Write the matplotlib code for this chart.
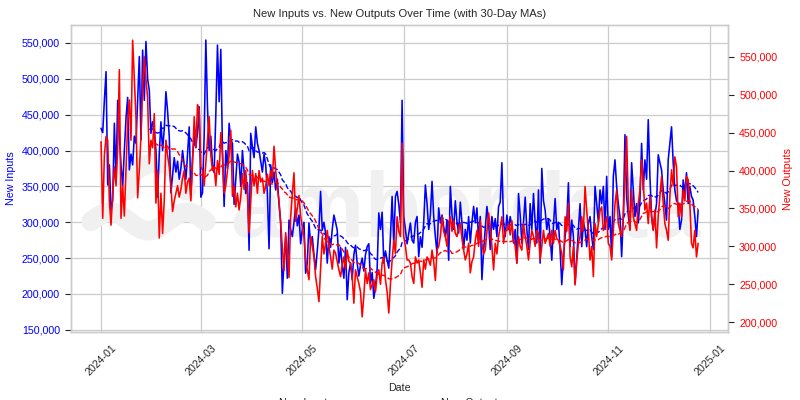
import numpy as np
import pandas as pd
import matplotlib
matplotlib.use("Agg")
import matplotlib.pyplot as plt
import matplotlib.ticker as mticker
import seaborn as sns

# daily values, thousands, 2024-01-01 .. 2024-12-25
new_inputs = [
    # Jan
    431, 425, 470, 510, 352, 380, 317, 330, 438, 360, 470, 420, 380, 350, 400, 445,
    474, 373, 395, 380, 420, 410, 470, 531, 415, 540, 470, 552, 500, 484, 424,
    # Feb
    440, 430, 400, 335, 395, 440, 400, 430, 482, 455, 420, 341, 365, 390, 370, 385,
    360, 375, 400, 380, 360, 395, 433, 338, 390, 420, 405, 425, 461,
    # Mar
    335, 341, 420, 554, 460, 400, 420, 380, 369, 450, 547, 468, 541, 400, 322, 400,
    375, 438, 415, 410, 325, 360, 395, 384, 350, 400, 370, 340, 355, 261, 424,
    # Apr
    405, 390, 433, 410, 400, 385, 370, 395, 380, 340, 263, 380, 355, 370, 345, 360,
    325, 300, 201, 247, 280, 222, 303, 290, 280, 300, 320, 295, 310, 270,
    # May
    290, 300, 229, 243, 299, 270, 280, 255, 234, 260, 290, 343, 289, 300, 285, 243,
    280, 265, 290, 310, 300, 289, 243, 265, 240, 222, 265, 192, 230, 243, 220,
    # Jun
    255, 268, 243, 225, 240, 250, 232, 255, 266, 270, 215, 230, 194, 210, 235, 313,
    290, 314, 243, 260, 247, 236, 280, 336, 270, 336, 343, 325, 300, 470,
    # Jul
    308, 290, 270, 285, 299, 275, 271, 300, 308, 252, 280, 265, 300, 352, 326, 290,
    310, 357, 308, 280, 257, 320, 299, 310, 294, 280, 303, 247, 350, 310, 290,
    # Aug
    330, 300, 285, 328, 299, 262, 290, 275, 308, 271, 300, 322, 299, 320, 275, 308,
    220, 260, 290, 322, 300, 262, 308, 290, 305, 280, 322, 328, 383, 300, 280,
    # Sep
    310, 290, 308, 295, 271, 290, 243, 340, 310, 271, 300, 335, 290, 262, 326, 290,
    340, 300, 271, 345, 243, 375, 330, 317, 290, 305, 280, 247, 295, 333,
    # Oct
    290, 300, 262, 213, 250, 280, 300, 355, 266, 303, 280, 215, 250, 290, 326, 266,
    300, 290, 266, 299, 308, 280, 262, 350, 326, 300, 345, 326, 350, 290, 364,
    # Nov
    290, 308, 252, 364, 387, 350, 326, 308, 252, 308, 422, 336, 310, 290, 383, 345,
    308, 326, 299, 330, 410, 345, 387, 360, 443, 364, 308, 290, 310, 326,
    # Dec
    394, 383, 373, 345, 326, 303, 387, 410, 433, 383, 345, 330, 326, 290, 303, 359,
    340, 369, 326, 350, 336, 331, 308, 280, 317,
]

new_outputs = [
    # Jan
    438, 337, 420, 445, 440, 360, 328, 370, 405, 380, 430, 533, 337, 380, 340, 400,
    463, 493, 440, 572, 520, 470, 364, 400, 445, 510, 550, 520, 496, 409, 440,
    # Feb
    430, 475, 357, 400, 311, 370, 317, 360, 440, 420, 405, 380, 346, 360, 370, 380,
    365, 375, 390, 400, 370, 385, 390, 360, 410, 471, 430, 487, 480,
    # Mar
    405, 401, 380, 410, 440, 471, 420, 400, 405, 380, 413, 395, 450, 420, 370, 380,
    400, 420, 453, 366, 380, 352, 370, 348, 365, 396, 375, 400, 370, 318, 360,
    # Apr
    400, 380, 396, 370, 400, 385, 390, 370, 380, 395, 380, 400, 390, 432, 400, 377,
    360, 330, 300, 268, 318, 290, 259, 339, 370, 397, 333, 350, 367, 340,
    # May
    325, 313, 283, 269, 256, 313, 300, 287, 260, 245, 227, 270, 313, 290, 304, 321,
    300, 286, 270, 295, 291, 280, 269, 260, 275, 286, 270, 295, 280, 278, 260,
    # Jun
    225, 269, 260, 251, 240, 207, 235, 269, 251, 265, 243, 250, 256, 240, 262, 269,
    250, 278, 286, 256, 240, 212, 250, 282, 308, 290, 339, 320, 313, 436,
    # Jul
    313, 300, 282, 282, 278, 260, 251, 286, 278, 282, 265, 246, 282, 270, 286, 282,
    275, 295, 280, 255, 295, 300, 313, 339, 320, 313, 300, 330, 339, 320, 334,
    # Aug
    317, 313, 325, 330, 310, 295, 282, 290, 304, 265, 280, 286, 308, 321, 300, 334,
    304, 290, 295, 320, 344, 326, 300, 269, 304, 290, 313, 325, 339, 304, 320,
    # Sep
    321, 330, 315, 334, 310, 300, 278, 313, 300, 295, 330, 313, 300, 282, 305, 321,
    313, 300, 321, 317, 282, 300, 321, 304, 310, 317, 300, 321, 304, 321,
    # Oct
    310, 308, 300, 291, 269, 339, 320, 357, 286, 273, 300, 249, 280, 304, 313, 339,
    320, 379, 347, 321, 282, 300, 260, 330, 313, 330, 347, 352, 321, 330, 339,
    # Nov
    304, 300, 282, 321, 356, 374, 330, 321, 313, 339, 392, 445, 357, 321, 374, 339,
    330, 321, 356, 374, 414, 383, 348, 357, 330, 366, 339, 321, 348, 298,
    # Dec
    340, 366, 392, 357, 330, 321, 308, 366, 401, 380, 418, 405, 339, 357, 339, 374,
    360, 392, 388, 357, 304, 298, 321, 286, 304,
]

dates = pd.date_range("2024-01-01", periods=len(new_inputs), freq="D")
df = pd.DataFrame({"inputs": [v * 1000 for v in new_inputs],
                   "outputs": [v * 1000 for v in new_outputs]}, index=dates)
df["inputs_ma"] = df["inputs"].rolling(30).mean()
df["outputs_ma"] = df["outputs"].rolling(30).mean()

sns.set_style("whitegrid")
plt.rcParams["font.family"] = ["Liberation Sans", "DejaVu Sans"]
plt.rcParams["font.size"] = 7.7
plt.rcParams["xtick.major.size"] = 4.5
plt.rcParams["ytick.major.size"] = 4.5
plt.rcParams["grid.linewidth"] = 0.9
plt.rcParams["axes.linewidth"] = 1.0

fig, ax1 = plt.subplots(figsize=(8, 4), dpi=100)
fig.subplots_adjust(left=0.089, right=0.91, top=0.9375, bottom=0.17)

# faint watermark: logo waves + word
wm = "#f0f0f0"
t = np.linspace(0, 1, 60)
ax1.plot(0.03 + 0.175 * t, 0.36 + 0.03 * np.sin(2 * np.pi * t * 1.5),
         transform=ax1.transAxes, color=wm, lw=14, solid_capstyle="round", zorder=1)
ang = np.linspace(0, np.pi, 40)
ax1.plot(0.13 + 0.045 * np.cos(ang), 0.46 + 0.09 * np.sin(ang),
         transform=ax1.transAxes, color=wm, lw=14, solid_capstyle="round", zorder=1)
ax1.text(0.242, 0.31, "amberdata", transform=ax1.transAxes, fontsize=67,
         fontweight="bold", color=wm, ha="left", va="baseline", zorder=1)

l1, = ax1.plot(df.index, df["inputs"], color="blue", lw=1.15, label="New Inputs")
l2, = ax1.plot(df.index, df["inputs_ma"], color="blue", lw=1.0, ls="--",
               label="New Inputs 30-Day MA")
ax1.set_ylim(147000, 575000)
ax1.set_ylabel("New Inputs", color="blue")
ax1.tick_params(axis="y", labelcolor="blue")
ax1.set_xlabel("Date")
ax1.yaxis.set_major_formatter(mticker.FuncFormatter(lambda v, p: f"{v:,.0f}"))

ax2 = ax1.twinx()
l3, = ax2.plot(df.index, df["outputs"], color="red", lw=1.15, label="New Outputs")
l4, = ax2.plot(df.index, df["outputs_ma"], color="red", lw=1.0, ls="--",
               label="New Outputs 30-Day MA")
ax2.set_ylim(187000, 592000)
ax2.set_ylabel("New Outputs", color="red")
ax2.tick_params(axis="y", labelcolor="red")
ax2.grid(False)
ax2.yaxis.set_major_formatter(mticker.FuncFormatter(lambda v, p: f"{v:,.0f}"))

for lab in ax1.get_xticklabels():
    lab.set_rotation(45)

ax1.set_title("New Inputs vs. New Outputs Over Time (with 30-Day MAs)", fontsize=8.1)
fig.legend([l1, l2, l3, l4], [h.get_label() for h in [l1, l2, l3, l4]],
           loc="upper center", bbox_to_anchor=(0.505, 0.03), ncol=2, frameon=False)

fig.savefig("out.png", dpi=100)
